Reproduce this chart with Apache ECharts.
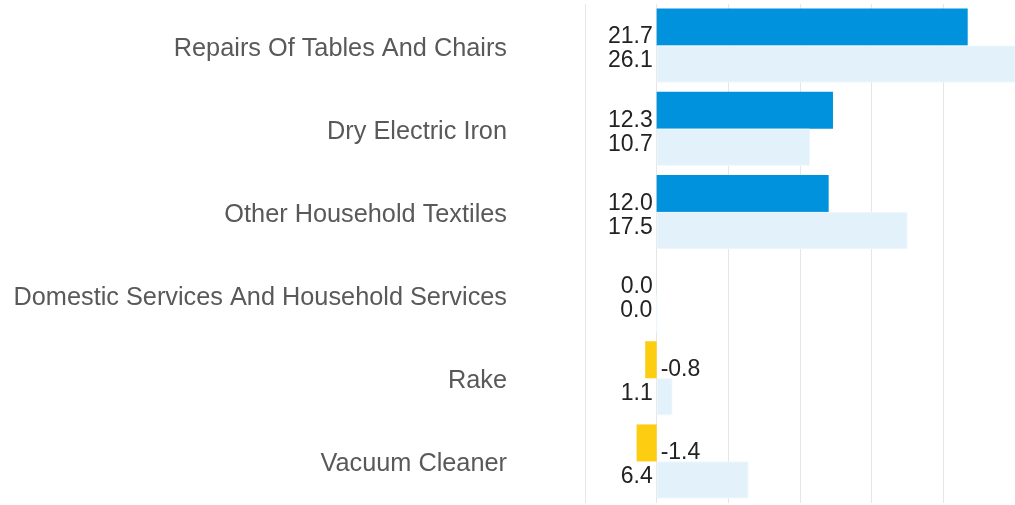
<!DOCTYPE html>
<html>
<head>
<meta charset="utf-8">
<script src="https://cdn.jsdelivr.net/npm/echarts@6/dist/echarts.min.js"></script>
<style>
  html, body { margin: 0; padding: 0; background: #fff; }
  #chart { width: 1015px; height: 505px; }
</style>
</head>
<body>
<div id="chart"></div>
<script>
const categories = [
  'Repairs Of Tables And Chairs',
  'Dry Electric Iron',
  'Other Household Textiles',
  'Domestic Services And Household Services',
  'Rake',
  'Vacuum Cleaner'
];
const currentValues = [21.7, 12.3, 12.0, 0.0, -0.8, -1.4];
const previousValues = [26.1, 10.7, 17.5, 0.0, 1.1, 6.4];

const chart = echarts.init(document.getElementById('chart'));

const fmt = p => Number(p.value).toFixed(1);
const font = '"Liberation Sans", Arial, sans-serif';

const option = {
  animation: false,
  textStyle: { fontFamily: font },
  grid: { left: 585, right: 0, top: 4, bottom: 2 },
  xAxis: {
    type: 'value',
    min: -5,
    max: 25,
    interval: 5,
    axisLabel: { show: false },
    axisLine: { show: false },
    axisTick: { show: false },
    splitLine: { lineStyle: { color: '#e6e6e6', width: 1 } }
  },
  yAxis: {
    type: 'category',
    inverse: true,
    data: categories,
    axisLine: { show: false },
    axisTick: { show: false },
    axisLabel: {
      margin: 78,
      formatter: v => '{c|' + v + '}',
      rich: {
        c: {
          fontSize: 25.3,
          color: '#595959',
          fontFamily: font,
          padding: [6, 0, 0, 0]
        }
      }
    }
  },
  series: [
    {
      name: 'current',
      type: 'bar',
      barWidth: 37,
      barGap: '0%',
      data: currentValues.map(v => ({
        value: v,
        itemStyle: { color: v < 0 ? '#fdcd12' : '#0092dc' },
        label: { position: v < 0 ? 'right' : 'left' }
      })),
      label: {
        show: true,
        fontSize: 23,
        color: '#222',
        distance: 4,
        offset: [0, 10],
        fontFamily: font,
        formatter: fmt
      }
    },
    {
      name: 'previous',
      type: 'bar',
      barWidth: 37,
      itemStyle: { color: '#e3f1fb', borderColor: '#edf7fd', borderWidth: 1 },
      data: previousValues,
      label: {
        show: true,
        position: 'left',
        fontSize: 23,
        color: '#222',
        distance: 4,
        offset: [0, -3],
        fontFamily: font,
        formatter: fmt
      }
    }
  ]
};

chart.setOption(option);
</script>
</body>
</html>
